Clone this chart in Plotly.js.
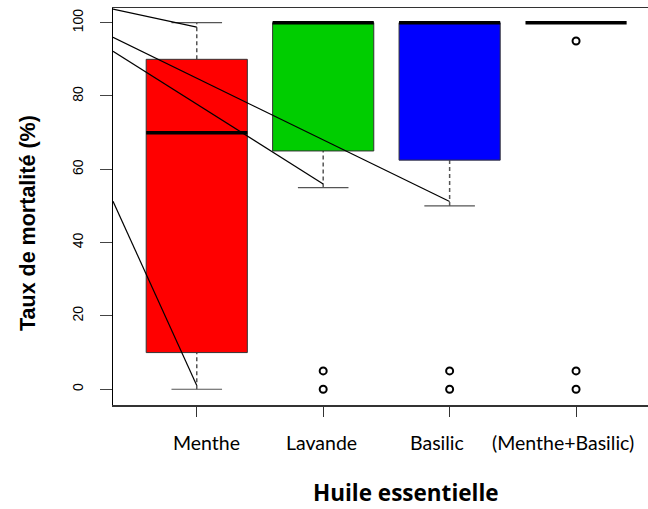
<!DOCTYPE html>
<html>
<head>
<meta charset="utf-8">
<script src="https://cdn.plot.ly/plotly-3.0.1.min.js"></script>
<style>html,body{margin:0;padding:0;overflow:hidden;background:#fff}</style>
</head>
<body>
<div id="chart" style="width:648px;height:509px"></div>
<script>
// Data
const categories = ["Menthe", "Lavande", "Basilic", "(Menthe+Basilic)"];
const lowerWhisker = [0, 55, 50, 100];
const q1 = [10, 65, 62.5, 100];
const median = [70, 100, 100, 100];
const q3 = [90, 100, 100, 100];
const upperWhisker = [100, 100, 100, 100];
const boxColors = ["#FF0000", "#00CD00", "#0000FF", "#FFFFFF"];
const outlierGroup = [2, 2, 3, 3, 4, 4, 4];
const outlierValue = [0, 5, 0, 5, 0, 5, 95];
const yTicks = [0, 20, 40, 60, 80, 100];
// Stray diagonal lines (start at left edge of plot, end at group position)
const segStartX = [0.3375, 0.3375, 0.3375, 0.3375];
const segStartY = [103.7, 96.0, 92.2, 51.3];
const segEndX = [1, 3, 2, 1];
const segEndY = [98.8, 51.2, 56, 1];

// layout-only: horizontal offsets of the category labels (they are not centred on the ticks in the original)
const labelOffset = [0.08, -0.01, -0.10, -0.10];

const boxHalf = 0.4, capHalf = 0.2;
const shapes = [];
categories.forEach((c, i) => {
  const x = i + 1;
  const base = {type:'line', xref:'x', yref:'y', layer:'below'};
  if (q3[i] < upperWhisker[i]) shapes.push(Object.assign({}, base, {x0:x, x1:x, y0:q3[i], y1:upperWhisker[i], line:{color:'#555', width:1.5, dash:'4px,3px'}}));
  if (lowerWhisker[i] < q1[i]) shapes.push(Object.assign({}, base, {x0:x, x1:x, y0:lowerWhisker[i], y1:q1[i], line:{color:'#555', width:1.5, dash:'4px,3px'}}));
  shapes.push(Object.assign({}, base, {x0:x-capHalf, x1:x+capHalf, y0:upperWhisker[i], y1:upperWhisker[i], line:{color:'#555', width:1.2}}));
  shapes.push(Object.assign({}, base, {x0:x-capHalf, x1:x+capHalf, y0:lowerWhisker[i], y1:lowerWhisker[i], line:{color:'#555', width:1.2}}));
  if (q3[i] > q1[i]) shapes.push({type:'rect', xref:'x', yref:'y', layer:'below', x0:x-boxHalf, x1:x+boxHalf, y0:q1[i], y1:q3[i], fillcolor:boxColors[i], line:{color:'#333', width:1}});
  shapes.push(Object.assign({}, base, {x0:x-boxHalf, x1:x+boxHalf, y0:median[i], y1:median[i], line:{color:'#000', width:3.5}}));
});

const traces = [];
traces.push({type:'scatter', mode:'markers', x:outlierGroup, y:outlierValue,
  marker:{symbol:'circle-open', size:7, color:'#000', line:{width:2, color:'#000'}},
  hoverinfo:'skip', showlegend:false, cliponaxis:false});
for (let k = 0; k < segStartX.length; k++) {
  traces.push({type:'scatter', mode:'lines', x:[segStartX[k], segEndX[k]], y:[segStartY[k], segEndY[k]],
    line:{color:'#000', width:1.2}, hoverinfo:'skip', showlegend:false});
}

const catFont = {family:"'Lato', 'Open Sans', sans-serif", size:19.5, color:'#000'};
const annotations = categories.map((c, i) => ({
  text:c, xref:'x', yref:'paper', x:i + 1 + labelOffset[i], y:-(442-405)/397,
  xanchor:'center', yanchor:'middle', showarrow:false, font:catFont
}));
annotations.push({text:'Huile essentielle', xref:'paper', yref:'paper', x:(406-113)/535, y:-(492-405)/397, xanchor:'center', yanchor:'middle', showarrow:false,
  font:{family:"'Open Sans', 'Lato', sans-serif", size:22.5, color:'#000', weight:'bold'}});
annotations.push({text:'Taux de mortalité (%)', xref:'paper', yref:'paper', x:-(113-28)/535, y:(405-223)/397, xanchor:'center', yanchor:'middle', textangle:-90, showarrow:false,
  font:{family:"'Liberation Sans', Arial, sans-serif", size:21.5, color:'#000', weight:'bold'}});

const layout = {
  width:648, height:509,
  margin:{l:113, r:0, t:8, b:104},
  paper_bgcolor:'#fff', plot_bgcolor:'#fff',
  showlegend:false,
  shapes: shapes,
  annotations: annotations,
  xaxis:{
    range:[0.3375, 4.569], tickmode:'array', tickvals:[1,2,3,4], showticklabels:false,
    showgrid:false, zeroline:false, showline:true, mirror:true, linecolor:'#333', linewidth:1.5,
    ticks:'outside', ticklen:10, tickcolor:'#333', tickwidth:1
  },
  yaxis:{
    range:[-4.3, 104], tickmode:'array', tickvals:yTicks,
    showgrid:false, zeroline:false, showline:true, mirror:false, linecolor:'#000', linewidth:1.5,
    ticks:'outside', ticklen:12, tickcolor:'#444', tickwidth:1, tickangle:-90, ticklabelstandoff:11,
    tickfont:{family:"'Liberation Sans', Arial, sans-serif", size:14, color:'#000'}
  }
};
Plotly.newPlot('chart', traces, layout, {staticPlot:true, displayModeBar:false});
</script>
</body>
</html>
